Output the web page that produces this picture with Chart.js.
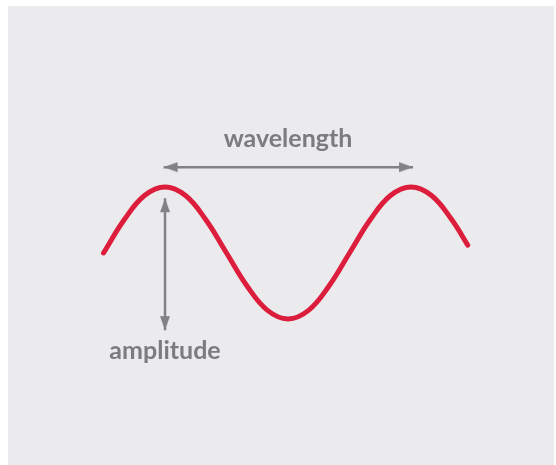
<!DOCTYPE html>
<html>
<head>
<meta charset="utf-8">
<script src="https://cdn.jsdelivr.net/npm/chart.js@4/dist/chart.umd.min.js"></script>
<style>
  html, body { margin: 0; padding: 0; background: #ffffff; }
  #panel { position: absolute; left: 8px; top: 6px; width: 546px; height: 459px; background: #ebebed; }
  #wrap { position: absolute; left: 0; top: 0; width: 556px; height: 465px; }
</style>
</head>
<body>
<div id="panel"></div>
<div id="wrap"><canvas id="waveChart"></canvas></div>
<script>
// Wave: phase (degrees) and height (in amplitudes)
const wavePhase = [0, 30, 60, 90, 120, 150, 180, 210, 240, 270, 300, 330, 360, 390, 420, 450, 480, 510, 533];
const waveValue = [0, 0.5, 0.87, 1, 0.87, 0.5, 0, -0.5, -0.87, -1, -0.87, -0.5, 0, 0.5, 0.87, 1, 0.87, 0.5, 0.12];

// Arrow tips
const wavelengthArrowX = [88, 453];
const wavelengthArrowY = [1.3, 1.3];
const amplitudeArrowX = [90, 90];
const amplitudeArrowY = [0.83, -1.17];

// Labels
const labelTexts = ['wavelength', 'amplitude'];
const labelX = [270, 90];
const labelY = [1.6, -1.6];

const arrowGray = '#818284';
const textGray = '#7b7c7e';
const waveRed = '#dc1e3c';

// Arrow head image with its tip in the centre (points up before rotation)
function makeArrowHead(len, width, color) {
  const c = document.createElement('canvas');
  c.width = Math.ceil(width) + 2;
  c.height = Math.ceil(len) * 2 + 2;
  const g = c.getContext('2d');
  const cx = c.width / 2, cy = c.height / 2;
  g.fillStyle = color;
  g.beginPath();
  g.moveTo(cx, cy);
  g.lineTo(cx + width / 2, cy + len);
  g.lineTo(cx - width / 2, cy + len);
  g.closePath();
  g.fill();
  return c;
}
const arrowHead = makeArrowHead(14, 10, arrowGray);

function toPoints(xs, ys) {
  return xs.map((x, i) => ({ x: x, y: ys[i] }));
}

// Draw the text labels at data positions
const labelPlugin = {
  id: 'labels',
  afterDatasetsDraw(chart) {
    const ctx = chart.ctx;
    const xs = chart.scales.x, ys = chart.scales.y;
    ctx.save();
    ctx.fillStyle = textGray;
    ctx.font = 'bold 25px Lato, sans-serif';
    ctx.textAlign = 'center';
    ctx.textBaseline = 'alphabetic';
    labelTexts.forEach((t, i) => {
      ctx.fillText(t, xs.getPixelForValue(labelX[i]), ys.getPixelForValue(labelY[i]));
    });
    ctx.restore();
  }
};

const ctx = document.getElementById('waveChart');
new Chart(ctx, {
  type: 'line',
  data: {
    datasets: [
      {
        data: toPoints(wavePhase, waveValue),
        borderColor: waveRed,
        borderWidth: 5,
        borderCapStyle: 'round',
        tension: 0.4,
        pointRadius: 0
      },
      {
        data: toPoints(wavelengthArrowX, wavelengthArrowY),
        borderColor: arrowGray,
        borderWidth: 2.5,
        pointStyle: arrowHead,
        pointRotation: [-90, 90],
        pointRadius: 7
      },
      {
        data: toPoints(amplitudeArrowX, amplitudeArrowY),
        borderColor: arrowGray,
        borderWidth: 2.5,
        pointStyle: arrowHead,
        pointRotation: [0, 180],
        pointRadius: 7
      }
    ]
  },
  options: {
    responsive: true,
    maintainAspectRatio: false,
    animation: false,
    layout: { padding: 0, autoPadding: false },
    plugins: {
      legend: { display: false },
      tooltip: { enabled: false }
    },
    scales: {
      x: { type: 'linear', display: false, min: -151.5, max: 662.2 },
      y: { type: 'linear', display: false, min: -3.212, max: 3.833 }
    }
  },
  plugins: [labelPlugin]
});
</script>
</body>
</html>
